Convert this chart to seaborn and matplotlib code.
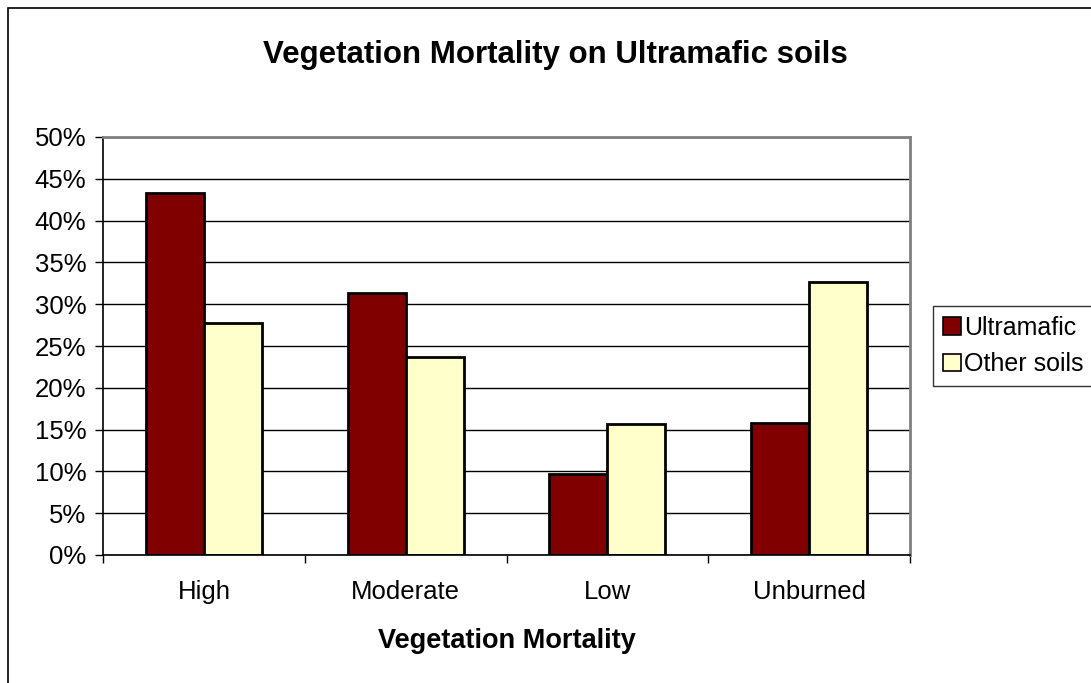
import pandas as pd
import numpy as np
import matplotlib.pyplot as plt
import seaborn as sns
from matplotlib.patches import Rectangle, Patch
from matplotlib.ticker import PercentFormatter

sns.set_theme(style='white')
plt.rcParams['font.family'] = ['Liberation Sans', 'DejaVu Sans']
plt.rcParams['text.color'] = 'black'
plt.rcParams['xtick.color'] = 'black'
plt.rcParams['ytick.color'] = 'black'
plt.rcParams['axes.labelcolor'] = 'black'

# data
categories = ['High', 'Moderate', 'Low', 'Unburned']
ultramafic = [43.3, 31.3, 9.7, 15.8]
other_soils = [27.7, 23.7, 15.7, 32.7]
series = ['Ultramafic', 'Other soils']

df = pd.DataFrame({
    'mortality': categories * 2,
    'soil': [series[0]] * 4 + [series[1]] * 4,
    'value': ultramafic + other_soils,
})

colors = {'Ultramafic': '#800000', 'Other soils': '#FFFFCC'}

fig = plt.figure(figsize=(10.91, 6.83), dpi=100)
ax = fig.add_axes([103 / 1091, 1 - 555 / 683, 807 / 1091, 418 / 683])

sns.barplot(data=df, x='mortality', y='value', hue='soil', order=categories,
            hue_order=series, palette=colors, saturation=1, width=0.574, gap=0,
            edgecolor='black', linewidth=2, ax=ax, legend=False)

ax.set_ylim(0, 50)
ax.set_xlim(-0.5, 3.5)
ax.set_yticks(np.arange(0, 51, 5))
ax.yaxis.set_major_formatter(PercentFormatter(decimals=0))
ax.grid(axis='y', color='black', linewidth=1)
ax.set_axisbelow(True)

# excel style: ticks between the categories
ax.set_xticks(np.arange(-0.5, 4, 1), minor=True)
ax.tick_params(axis='x', which='major', length=0, labelsize=18.5, pad=18)
ax.tick_params(axis='x', which='minor', length=6, width=1, color='black', direction='out', bottom=True)
ax.tick_params(axis='y', length=6, width=1, color='black', direction='out', left=True, labelsize=18.5, pad=6)

for s in ['left', 'bottom']:
    ax.spines[s].set_color('black')
    ax.spines[s].set_linewidth(1.2)
for s in ['top', 'right']:
    ax.spines[s].set_color('#808080')
    ax.spines[s].set_linewidth(2)

ax.set_xlabel('Vegetation Mortality', fontsize=19.5, fontweight='bold', labelpad=17)
ax.set_ylabel('')

fig.text(555 / 1091, 1 - 55 / 683, 'Vegetation Mortality on Ultramafic soils',
         ha='center', va='center', fontsize=22.5, fontweight='bold')

handles = [Patch(facecolor=colors[s], edgecolor='black', linewidth=1.2, label=s) for s in series]
leg = fig.legend(handles=handles, loc='center left', bbox_to_anchor=(933 / 1091, 1 - 346 / 683),
                 fontsize=18, frameon=True, fancybox=False, handlelength=0.7, handleheight=0.7,
                 handletextpad=0.15, borderpad=0.4, labelspacing=0.5, borderaxespad=0)
leg.get_frame().set_edgecolor('black')
leg.get_frame().set_linewidth(1)

fig.patches.append(Rectangle((8 / 1091, -0.01), 1.02, 1 - 8 / 683 + 0.01, transform=fig.transFigure,
                             fill=False, edgecolor='black', linewidth=1.2))

fig.savefig('out.png', dpi=100)
